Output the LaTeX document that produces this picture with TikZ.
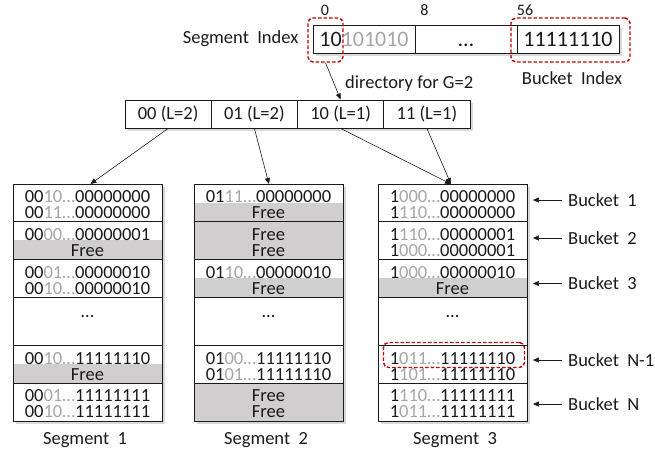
\documentclass[tikz,border=0pt]{standalone}
\usepackage{fontspec}
\setmainfont{Carlito}
\usetikzlibrary{arrows.meta,shadows,calc}
\definecolor{freegray}{HTML}{D0CECE}
\definecolor{dimgray}{HTML}{A6A6A6}
\definecolor{markred}{HTML}{C00000}
\definecolor{ink}{HTML}{1A1A1A}
% key entry: bright prefix, dim middle bits, bucket suffix
\newcommand{\kv}[3]{#1{\color{dimgray}#2…}#3}
\newcommand{\wsp}{\hspace{0.45em}}
% grey background of a free slot: left x, top y, height
\newcommand{\freeslot}[3]{\fill[freegray] (#1,#2) rectangle ++(149,#3);}
\begin{document}
\begin{tikzpicture}[x=1pt,y=-1pt,
  every node/.style={inner sep=0pt, text=ink},
  lbltext/.style={font=\fontsize{18.5}{20}\selectfont},
  entrytext/.style={font=\fontsize{18.5}{20}\selectfont},
  softshade/.style={drop shadow={shadow xshift=2.5pt, shadow yshift=-3pt, opacity=0.3}},
  plainbox/.style={draw=ink, line width=0.9pt, fill=white},
  idxcell/.style={plainbox, softshade, minimum width=102pt, minimum height=28pt, font=\fontsize{22}{24}\selectfont},
  dircell/.style={plainbox, softshade, minimum width=86.25pt, minimum height=28pt, font=\fontsize{18.5}{20}\selectfont},
  segbox/.style={plainbox, softshade, minimum width=149pt, minimum height=236.5pt, anchor=north west},
  sepline/.style={draw=ink, line width=0.9pt},
  redmark/.style={draw=markred, line width=1.4pt, dash pattern=on 3.5pt off 2pt, rounded corners=5pt},
  link/.style={draw=ink, line width=0.6pt, -{Triangle[length=6pt,width=5pt]}},
]
\useasboundingbox (0,0) rectangle (655,450);

% ---- hash key split into segment index and bucket index ----
\node[idxcell] (c1) at (364,39) {10{\color{dimgray}101010}};
\node[idxcell] (c2) at (466,39) {};
\node[font=\fontsize{22}{24}\selectfont] (c2dots) at (466,45) {…};
\node[idxcell] (c3) at (568,39) {11111110};
\node[font=\fontsize{16}{18}\selectfont] (n0) at (325,10.5) {0};
\node[font=\fontsize{16}{18}\selectfont] (n8) at (424.5,10.5) {8};
\node[font=\fontsize{16}{18}\selectfont] (n56) at (525,10.5) {56};
\node[lbltext, anchor=base east] (segidx) at (298.5,43.3) {Segment\wsp Index};
\node[lbltext, anchor=base] (bktidx) at (572,84) {Bucket\wsp Index};
\node[redmark, minimum width=35pt, minimum height=44pt] (r1) at (325.5,40) {};
\node[redmark, minimum width=119pt, minimum height=44pt] (r2) at (570.5,40) {};

% ---- directory ----
\node[dircell] (d00) at (168.125,114) {00 (L=2)};
\node[dircell] (d01) at (254.375,114) {01 (L=2)};
\node[dircell] (d10) at (340.625,114) {10 (L=1)};
\node[dircell] (d11) at (426.875,114) {11 (L=1)};
\node[lbltext, anchor=base west] (dirlbl) at (345,88.3) {directory for G=2};
\draw[link] (r1.south) -- (d10.north);

% ---- segments ----
\node[segbox] (s1) at (13,184) {};
\node[segbox] (s2) at (194,184) {};
\node[segbox] (s3) at (378,184) {};

% free slots
\freeslot{13}{240}{19.5}
\freeslot{13}{364}{19}
\freeslot{194}{202.5}{19}
\freeslot{194}{221.5}{38}
\freeslot{194}{278}{19.5}
\freeslot{194}{383}{37.5}
\freeslot{378}{278}{19.5}

% bucket borders
\foreach \sx in {13,194,378}{
  \foreach \sy in {221.5,259.5,297.5,345.5,383}{
    \draw[sepline] (\sx,\sy) -- ++(149,0);
  }
}
\draw[sepline] (s1.north west) rectangle (s1.south east);
\draw[sepline] (s2.north west) rectangle (s2.south east);
\draw[sepline] (s3.north west) rectangle (s3.south east);

% segment 1
\node[entrytext] (a11) at (87.5,197) {\kv{00}{10}{00000000}};
\node[entrytext] (a12) at (87.5,213) {\kv{00}{11}{00000000}};
\node[entrytext] (a21) at (87.5,234.5) {\kv{00}{00}{00000001}};
\node[entrytext] (a22) at (87.5,250.5) {Free};
\node[entrytext] (a31) at (87.5,272.5) {\kv{00}{01}{00000010}};
\node[entrytext] (a32) at (87.5,288.5) {\kv{00}{10}{00000010}};
\node[entrytext] (adots) at (87.5,317) {…};
\node[entrytext] (a41) at (87.5,358.5) {\kv{00}{10}{11111110}};
\node[entrytext] (a42) at (87.5,374.5) {Free};
\node[entrytext] (a51) at (87.5,396) {\kv{00}{01}{11111111}};
\node[entrytext] (a52) at (87.5,412) {\kv{00}{10}{11111111}};

% segment 2
\node[entrytext] (b11) at (268.5,197) {\kv{01}{11}{00000000}};
\node[entrytext] (b12) at (268.5,213) {Free};
\node[entrytext] (b21) at (268.5,234.5) {Free};
\node[entrytext] (b22) at (268.5,250.5) {Free};
\node[entrytext] (b31) at (268.5,272.5) {\kv{01}{10}{00000010}};
\node[entrytext] (b32) at (268.5,288.5) {Free};
\node[entrytext] (bdots) at (268.5,317) {…};
\node[entrytext] (b41) at (268.5,358.5) {\kv{01}{00}{11111110}};
\node[entrytext] (b42) at (268.5,374.5) {\kv{01}{01}{11111110}};
\node[entrytext] (b51) at (268.5,396) {Free};
\node[entrytext] (b52) at (268.5,412) {Free};

% segment 3
\node[entrytext] (c11) at (452.5,197) {\kv{1}{000}{00000000}};
\node[entrytext] (c12) at (452.5,213) {\kv{1}{110}{00000000}};
\node[entrytext] (c21) at (452.5,234.5) {\kv{1}{110}{00000001}};
\node[entrytext] (c22) at (452.5,250.5) {\kv{1}{000}{00000001}};
\node[entrytext] (c31) at (452.5,272.5) {\kv{1}{000}{00000010}};
\node[entrytext] (c32) at (452.5,288.5) {Free};
\node[entrytext] (cdots) at (452.5,317) {…};
\node[entrytext] (c41) at (452.5,358.5) {\kv{1}{011}{11111110}};
\node[entrytext] (c42) at (452.5,374.5) {\kv{1}{101}{11111110}};
\node[entrytext] (c51) at (452.5,396) {\kv{1}{110}{11111111}};
\node[entrytext] (c52) at (452.5,412) {\kv{1}{011}{11111111}};
\node[redmark, minimum width=141pt, minimum height=25pt] (r3) at (454,355) {};

% directory entries point to segments
\draw[link] (d00.south) -- ($(s1.north)+(2.5,0)$);
\draw[link] (d01.south) -- (s2.north);
\draw[link] (d10.south) -- ($(s3.north)+(-2,0)$);
\draw[link] (d11.south) -- ($(s3.north)+(-2,0)$);

% segment captions
\node[lbltext, anchor=base] (sl1) at (85,444) {Segment\wsp 1};
\node[lbltext, anchor=base] (sl2) at (266,444) {Segment\wsp 2};
\node[lbltext, anchor=base] (sl3) at (455,444) {Segment\wsp 3};

% bucket captions
\node[lbltext, anchor=west] (bl1) at (568,200) {Bucket\wsp 1};
\node[lbltext, anchor=west] (bl2) at (568,238) {Bucket\wsp 2};
\node[lbltext, anchor=west] (bl3) at (568,283.5) {Bucket\wsp 3};
\node[lbltext, anchor=west] (bl4) at (568,360) {Bucket\wsp N-1};
\node[lbltext, anchor=west] (bl5) at (568,404) {Bucket\wsp N};
\foreach \b in {bl1,bl2,bl3,bl4,bl5}{
  \draw[link] ($(\b.west)+(-6,0)$) -- ($(s3.east |- \b.west)+(5,0)$);
}
\end{tikzpicture}
\end{document}
